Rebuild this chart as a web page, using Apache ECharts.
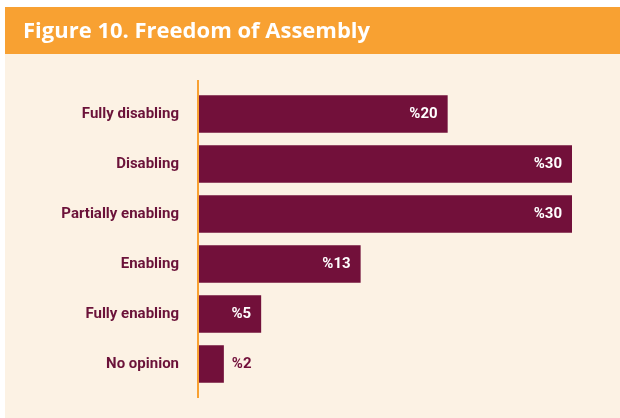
<!DOCTYPE html>
<html>
<head>
<meta charset="utf-8">
<script src="https://cdn.jsdelivr.net/npm/echarts@6/dist/echarts.min.js"></script>
<style>
  html, body { margin: 0; padding: 0; background: #fff; }
  #chartBox { width: 620px; height: 418px; }
</style>
</head>
<body>
<div id="chartBox"></div>
<script>
// categories and values
var categories = ['Fully disabling', 'Disabling', 'Partially enabling', 'Enabling', 'Fully enabling', 'No opinion']
var values = [20, 30, 30, 13, 5, 2]
// bars too short to hold their label get it outside
var labelOutside = [false, false, false, false, false, true]

var maroon = '#72103a'
var labelFont = 'Roboto, sans-serif'

var myChart = echarts.init(document.getElementById('chartBox'))

myChart.setOption({
  backgroundColor: '#ffffff',
  animation: false,
  graphic: [
    // cream panel
    { type: 'rect', z: -10, shape: { x: 5, y: 54, width: 615, height: 364 }, style: { fill: '#fcf2e4' } },
    // orange header band
    { type: 'rect', z: -10, shape: { x: 5, y: 7, width: 615, height: 47 }, style: { fill: '#f8a132' } },
    // axis line, a bit longer than the bars block
    { type: 'line', z: 10, shape: { x1: 198, y1: 80, x2: 198, y2: 398 }, style: { stroke: '#f8a132', lineWidth: 2 } }
  ],
  title: {
    text: 'Figure 10. Freedom of Assembly',
    left: 18,
    top: 16,
    textStyle: {
      color: '#ffffff',
      fontFamily: '"Open Sans", sans-serif',
      fontWeight: 'bold',
      fontSize: 22
    }
  },
  grid: {
    left: 199,
    top: 89,
    width: 373,
    height: 300
  },
  xAxis: {
    type: 'value',
    min: 0,
    max: 30,
    show: false
  },
  yAxis: {
    type: 'category',
    inverse: true,
    data: categories,
    axisLine: { show: false },
    axisTick: { show: false },
    axisLabel: {
      margin: 20,
      color: '#6b1239',
      fontFamily: labelFont,
      fontWeight: 'bold',
      fontSize: 15
    }
  },
  series: [
    {
      type: 'bar',
      barCategoryGap: '25%',
      itemStyle: { color: maroon },
      data: values.map(function (v, i) {
        return {
          value: v,
          label: labelOutside[i]
            ? { position: 'right', distance: 8, color: maroon }
            : { position: 'insideRight', distance: 10, color: '#ffffff' }
        }
      }),
      label: {
        show: true,
        fontFamily: labelFont,
        fontWeight: 'bold',
        fontSize: 15,
        formatter: function (p) {
          return '%' + p.value
        }
      }
    }
  ]
})
</script>
</body>
</html>
